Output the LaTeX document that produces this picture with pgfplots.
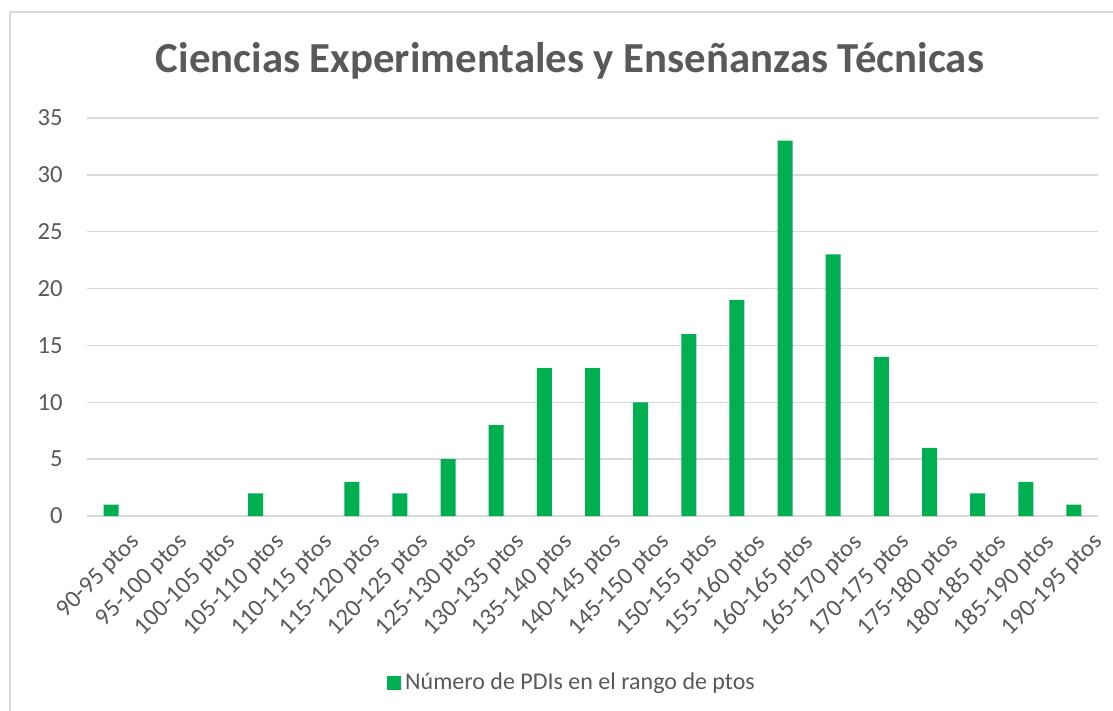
\documentclass[border=0pt]{standalone}
\usepackage{pgfplots}
\pgfplotsset{compat=1.18}
\usepackage{fontspec}
\setmainfont{Carlito}
\definecolor{bargreen}{HTML}{00B050}
\definecolor{txtgray}{HTML}{595959}
\definecolor{gridgray}{HTML}{D9D9D9}

\pgfplotstableread{
x y
0 1
1 0
2 0
3 2
4 0
5 3
6 2
7 5
8 8
9 13
10 13
11 10
12 16
13 19
14 33
15 23
16 14
17 6
18 2
19 3
20 1
}\pdidata

\begin{document}
\begin{tikzpicture}
\begin{axis}[
  name=ax, at={(0,0)}, anchor=south west,
  scale only axis, width=505.5pt, height=199pt,
  ybar, bar width=7.5pt,
  xmin=-0.5, xmax=20.5, ymin=0, ymax=35,
  ytick={0,5,...,35},
  xtick={0,...,20},
  xticklabels={90-95 ptos,95-100 ptos,100-105 ptos,105-110 ptos,110-115 ptos,115-120 ptos,120-125 ptos,125-130 ptos,130-135 ptos,135-140 ptos,140-145 ptos,145-150 ptos,150-155 ptos,155-160 ptos,160-165 ptos,165-170 ptos,170-175 ptos,175-180 ptos,180-185 ptos,185-190 ptos,190-195 ptos},
  major tick length=0pt,
  axis line style={draw=none},
  ymajorgrids, grid style={gridgray, line width=0.75pt},
  /pgf/number format/assume math mode=true,
  tick label style={font=\fontsize{12.3pt}{14pt}\selectfont, text=txtgray},
  yticklabel style={anchor=east, inner sep=0pt, xshift=-12pt},
  xticklabel style={rotate=45, anchor=east, inner sep=0pt, xshift=1pt, yshift=-17pt},
  legend style={at={(axis description cs:0.4807,-0.4196)}, anchor=center, draw=none,
    font=\fontsize{12pt}{14pt}\selectfont, text=txtgray},
  legend image code/.code={\fill[bargreen] (0pt,-3.5pt) rectangle (7pt,3.5pt);},
]
% zero counts draw no bar
\addplot[fill=bargreen, draw=none, y filter/.expression={y==0 ? nan : y}] table[x=x, y=y] {\pdidata};
\addlegendentry{Número de PDIs en el rango de ptos}
\end{axis}
\node[anchor=base, text=txtgray, font=\fontsize{21.4pt}{25pt}\selectfont\bfseries] at (241.5pt,221.5pt) {Ciencias Experimentales y Enseñanzas Técnicas};
\draw[gridgray, line width=0.75pt] (-38.5pt,-97.5pt) -- (-38.5pt,252pt) -- (513pt,252pt);
\pgfresetboundingbox
\path[use as bounding box] (-43.5pt,-97.5pt) rectangle (513pt,258pt);
\end{tikzpicture}
\end{document}
